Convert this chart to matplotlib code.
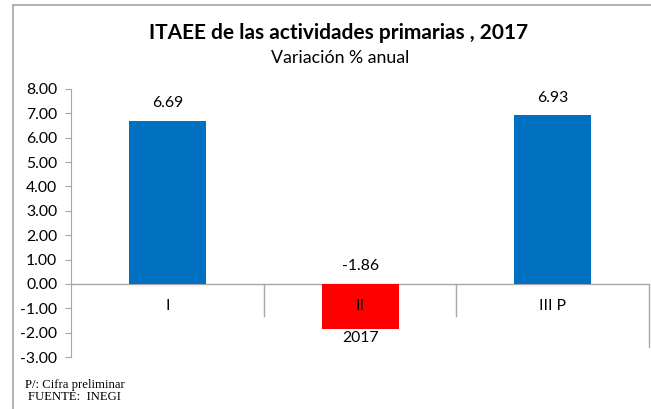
import matplotlib.pyplot as plt
from matplotlib.lines import Line2D

# data
categories = ["I", "II", "III P"]
values = [6.69, -1.86, 6.93]
bar_colors = ["#0070C0", "#FF0000", "#0070C0"]
year_label = "2017"
yticks = [-3, -2, -1, 0, 1, 2, 3, 4, 5, 6, 7, 8]

plt.rcParams['font.family'] = ['Lato', 'DejaVu Sans']

fig = plt.figure(figsize=(6.51, 4.09), dpi=100)
ax = fig.add_axes([0.1091, 0.1271, 0.997 - 0.1091, 0.7824 - 0.1271])

x = list(range(len(categories)))
ax.bar(x, values, width=0.4, color=bar_colors, zorder=2)

ax.set_xlim(-0.5, len(categories) - 0.5)
ax.set_ylim(-3, 8)
ax.set_yticks(yticks)
ax.set_yticklabels([f"{v:.2f}" for v in yticks], fontsize=11.3)
ax.tick_params(axis='y', length=4, color='#A6A6A6', pad=6)
ax.set_xticks([])

for s in ['top', 'right', 'bottom']:
    ax.spines[s].set_visible(False)
ax.spines['left'].set_color('#A6A6A6')

# category axis at zero
ax.axhline(0, color='#A6A6A6', lw=1, zorder=1)
for b in [0.5, 1.5]:
    ax.plot([b, b], [0, -1.3], color='#A6A6A6', lw=1, clip_on=False, zorder=1)
ax.plot([2.5, 2.5], [0, -2.6], color='#A6A6A6', lw=1, clip_on=False, zorder=1)

for i, (c, v) in enumerate(zip(categories, values)):
    ax.text(i, -0.92, c, ha='center', va='center', fontsize=11.3, zorder=3)
    ax.text(i, max(v, 0) + 0.72, f"{v:.2f}", ha='center', va='center', fontsize=11.3)

ax.text(1, -2.22, year_label, ha='center', va='center', fontsize=11.3)

fig.text(0.52, 0.919, "ITAEE de las actividades primarias , 2017",
         ha='center', va='center', fontsize=15, fontweight='bold')
fig.text(0.522, 0.858, "Variación % anual", ha='center', va='center', fontsize=12.8)

fig.text(0.038, 0.0587, "P/: Cifra preliminar", ha='left', va='center',
         fontsize=9.2, family='Liberation Serif')
fig.text(0.043, 0.0293, "FUENTE:  INEGI", ha='left', va='center',
         fontsize=9.2, family='Liberation Serif')

# outer chart border
fig.add_artist(Line2D([12.5 / 651, 12.5 / 651], [0, 1 - 5 / 409], color='#A6A6A6', lw=1.2))
fig.add_artist(Line2D([12.5 / 651, 1], [1 - 5 / 409, 1 - 5 / 409], color='#A6A6A6', lw=1.2))

fig.savefig("out.png", dpi=100)
